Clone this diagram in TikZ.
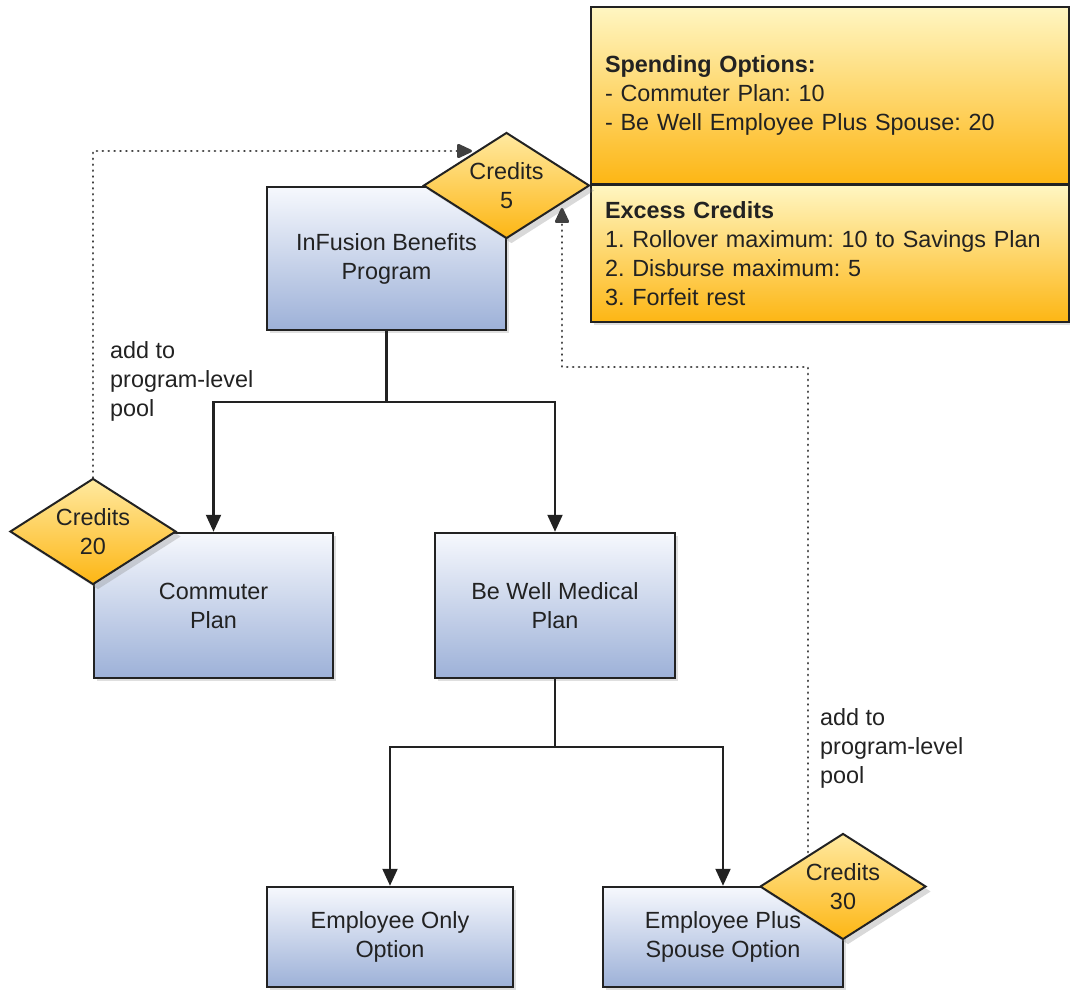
\documentclass[tikz,border=0pt]{standalone}
\usepackage{fontspec}
\setmainfont{Liberation Sans}
\frenchspacing
\usetikzlibrary{shapes.geometric,arrows.meta,shadows}
\definecolor{bluetop}{HTML}{F6F8FD}
\definecolor{bluebot}{HTML}{9DB1D8}
\definecolor{orgtop}{HTML}{FFF6C2}
\definecolor{orgbot}{HTML}{FDB614}
\definecolor{dmdtop}{HTML}{FFE9A0}
\definecolor{txt}{HTML}{222222}
\begin{document}
\begin{tikzpicture}[x=1pt,y=-1pt,
  every node/.style={font=\fontsize{23.4}{29}\selectfont, text=txt},
  bluebox/.style={draw=txt, line width=2.5pt, rectangle, top color=bluetop, bottom color=bluebot,
    align=center, inner sep=0pt,
    drop shadow={shadow xshift=3pt, shadow yshift=-3pt, opacity=0.25}},
  orgbox/.style={draw=txt, line width=2.5pt, rectangle, top color=orgtop, bottom color=orgbot,
    align=left, inner xsep=14pt, inner ysep=0pt, minimum width=478pt, text width=450pt,
    drop shadow={shadow xshift=3pt, shadow yshift=-3pt, opacity=0.25}},
  credit/.style={draw=txt, line width=2pt, diamond, aspect=1.57, top color=dmdtop, bottom color=orgbot,
    inner sep=0pt, minimum width=166pt, minimum height=106pt, align=center,
    drop shadow={shadow xshift=5pt, shadow yshift=-5pt, opacity=0.3}},
  conn/.style={draw=txt, line width=2.2pt, -{Triangle[length=17pt,width=15pt]}},
  dotconn/.style={draw=black!75, line width=2.8pt, dash pattern=on 0.1pt off 5.8pt, line cap=round,
    -{Triangle[length=17pt,width=15pt,line cap=butt,round=false]}},
  lbl/.style={align=left, inner sep=0pt, anchor=west}
]
\useasboundingbox (0,0) rectangle (1070,993);

% blue boxes
\node[bluebox, minimum width=239pt, minimum height=143pt] (prog) at (386.5,258.5) {InFusion Benefits\\Program};
\node[bluebox, minimum width=239pt, minimum height=145pt] (comm) at (213.5,605.5) {Commuter\\Plan};
\node[bluebox, minimum width=240pt, minimum height=145pt] (bewell) at (555,605.5) {Be Well Medical\\Plan};
\node[bluebox, minimum width=246pt, minimum height=100pt] (eonly) at (390,937) {Employee Only\\Option};
\node[bluebox, minimum width=240pt, minimum height=100pt] (eplus) at (723,937) {Employee Plus\\Spouse Option};

% orange boxes
\node[orgbox, minimum height=177pt] (spend) at (830,95.5)
  {\textbf{Spending Options:}\\- Commuter Plan: 10\\- Be Well Employee Plus Spouse: 20};
\node[orgbox, minimum height=137pt] (excess) at (830,253.5)
  {\textbf{Excess Credits}\\1. Rollover maximum: 10 to Savings Plan\\2. Disburse maximum: 5\\3. Forfeit rest};

% diamonds
\node[credit] (c5) at (506.5,185.5) {Credits\\5};
\node[credit] (c20) at (93,531.5) {Credits\\20};
\node[credit] (c30) at (843,886.5) {Credits\\30};

% solid connectors
\coordinate (j1) at (386.5,402);
\coordinate (j2) at (555,747);
\draw[draw=txt, line width=2.2pt] (prog.south) -- (j1);
\draw[conn] (j1) -| (comm.north);
\draw[conn] (j1) -| (bewell.north);
\draw[draw=txt, line width=2.2pt] (bewell.south) -- (j2);
\draw[conn] (j2) -| (eonly.north);
\draw[conn] (j2) -| (eplus.north);

% dotted connectors
\coordinate (t1) at (472,151);
\coordinate (s2) at (808,852);
\coordinate (b2) at (562,367);
\coordinate (t2) at (562,208);
\draw[dotconn] (c20.north) |- (t1);
\draw[dotconn] (s2) |- (b2) -- (t2);

% labels
\node[lbl] (l1) at (110,381) {add to\\program-level\\pool};
\node[lbl] (l2) at (820,748) {add to\\program-level\\pool};
\end{tikzpicture}
\end{document}
